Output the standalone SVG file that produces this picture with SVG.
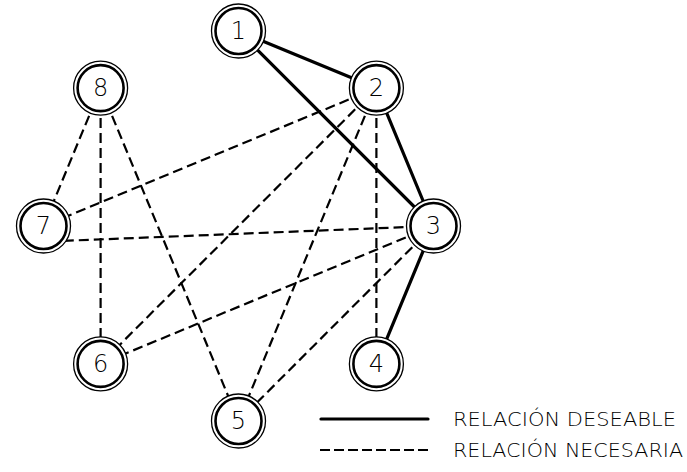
<svg xmlns="http://www.w3.org/2000/svg" width="687" height="472" viewBox="0 0 687 472">
<style>
.bg{fill:#fff}
.solid{stroke:#000;stroke-width:3.2;fill:none;stroke-linecap:round}
.dash{stroke:#000;stroke-width:2.2;fill:none;stroke-dasharray:10 5}
.outer{fill:#fff;stroke:#000;stroke-width:1.3}
.inner{fill:#fff;stroke:#000;stroke-width:2.6}
.num{font-family:"DejaVu Sans","Liberation Sans",sans-serif;font-weight:200;font-size:24px;fill:#000;text-anchor:middle;dominant-baseline:central}
.leg{font-family:"DejaVu Sans","Liberation Sans",sans-serif;font-weight:200;font-size:20px;fill:#000}
</style>
<rect class="bg" x="0" y="0" width="687" height="472"/>
<g id="connectors">
<line class="solid" x1="238.5" y1="31" x2="376.4" y2="88.1"/>
<line class="solid" x1="238.5" y1="31" x2="433.5" y2="226"/>
<line class="solid" x1="376.4" y1="88.1" x2="433.5" y2="226"/>
<line class="solid" x1="433.5" y1="226" x2="376.4" y2="363.9"/>
<line class="dash" x1="100.6" y1="88.1" x2="43.5" y2="226"/>
<line class="dash" x1="100.6" y1="88.1" x2="100.6" y2="363.9"/>
<line class="dash" x1="100.6" y1="88.1" x2="238.5" y2="421"/>
<line class="dash" x1="376.4" y1="88.1" x2="43.5" y2="226"/>
<line class="dash" x1="376.4" y1="88.1" x2="100.6" y2="363.9"/>
<line class="dash" x1="376.4" y1="88.1" x2="238.5" y2="421"/>
<line class="dash" x1="376.4" y1="88.1" x2="376.4" y2="363.9"/>
<line class="dash" x1="433.5" y1="226" x2="60" y2="241"/>
<line class="dash" x1="433.5" y1="226" x2="100.6" y2="363.9"/>
<line class="dash" x1="433.5" y1="226" x2="238.5" y2="421"/>
</g>
<g id="node1"><circle class="outer" cx="238.5" cy="31" r="27"/><circle class="inner" cx="238.5" cy="31" r="23"/><text class="num" x="238.5" y="31">1</text></g>
<g id="node2"><circle class="outer" cx="376.4" cy="88.1" r="27"/><circle class="inner" cx="376.4" cy="88.1" r="23"/><text class="num" x="376.4" y="88.1">2</text></g>
<g id="node3"><circle class="outer" cx="433.5" cy="226" r="27"/><circle class="inner" cx="433.5" cy="226" r="23"/><text class="num" x="433.5" y="226">3</text></g>
<g id="node4"><circle class="outer" cx="376.4" cy="363.9" r="27"/><circle class="inner" cx="376.4" cy="363.9" r="23"/><text class="num" x="376.4" y="363.9">4</text></g>
<g id="node5"><circle class="outer" cx="238.5" cy="421" r="27"/><circle class="inner" cx="238.5" cy="421" r="23"/><text class="num" x="238.5" y="421">5</text></g>
<g id="node6"><circle class="outer" cx="100.6" cy="363.9" r="27"/><circle class="inner" cx="100.6" cy="363.9" r="23"/><text class="num" x="100.6" y="363.9">6</text></g>
<g id="node7"><circle class="outer" cx="43.5" cy="226" r="27"/><circle class="inner" cx="43.5" cy="226" r="23"/><text class="num" x="43.5" y="226">7</text></g>
<g id="node8"><circle class="outer" cx="100.6" cy="88.1" r="27"/><circle class="inner" cx="100.6" cy="88.1" r="23"/><text class="num" x="100.6" y="88.1">8</text></g>
<g id="legend">
<line class="solid" x1="321" y1="419" x2="428" y2="419"/>
<text class="leg" x="453" y="426" textLength="223" lengthAdjust="spacingAndGlyphs">RELACIÓN DESEABLE</text>
<line class="dash" x1="320" y1="450" x2="428" y2="450" style="stroke-dasharray:10 4"/>
<text class="leg" x="453" y="457" textLength="230" lengthAdjust="spacingAndGlyphs">RELACIÓN NECESARIA</text>
</g>
</svg>
